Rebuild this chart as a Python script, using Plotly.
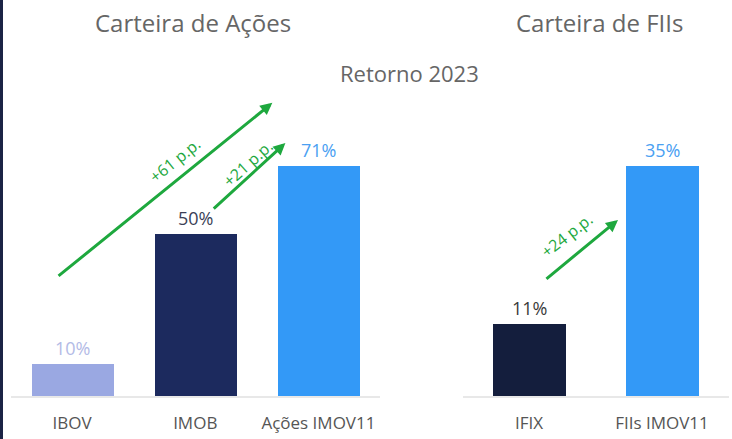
import plotly.graph_objects as go

# ---- data ----
acoes_categories = ["IBOV", "IMOB", "Ações IMOV11"]
acoes_values = [10, 50, 71]
fiis_categories = ["IFIX", "FIIs IMOV11"]
fiis_values = [11, 35]

acoes_bar_colors = ["#9aa8e2", "#1c2a5e", "#3399f7"]
acoes_label_colors = ["#b3bbe6", "#3b3f57", "#4aa0f2"]
fiis_bar_colors = ["#141e3d", "#3399f7"]
fiis_label_colors = ["#3a3a3a", "#4aa0f2"]

W, H = 732, 439
FONT = "Open Sans"
GREEN = "#1ea83e"

fig = go.Figure()
fig.add_trace(go.Bar(x=acoes_categories, y=acoes_values, marker=dict(color=acoes_bar_colors, line=dict(width=0)),
                     width=0.667, xaxis="x", yaxis="y", hoverinfo="skip"))
fig.add_trace(go.Bar(x=fiis_categories, y=fiis_values, marker=dict(color=fiis_bar_colors, line=dict(width=0)),
                     width=0.556, xaxis="x2", yaxis="y2", hoverinfo="skip"))

ann = []
for c, v, col in zip(acoes_categories, acoes_values, acoes_label_colors):
    ann.append(dict(x=c, y=v, xref="x", yref="y", text=f"{v}%", showarrow=False, yanchor="bottom",
                    yshift=2, font=dict(family=FONT, size=18, color=col)))
for c, v, col in zip(fiis_categories, fiis_values, fiis_label_colors):
    ann.append(dict(x=c, y=v, xref="x2", yref="y2", text=f"{v}%", showarrow=False, yanchor="bottom",
                    yshift=2, font=dict(family=FONT, size=18, color=col)))

# arrows (head x,y ; tail ax,ay) in axis coords
arrows = [
    ("x", "y", 1.626, 90.5, -0.122, 36.7),
    ("x", "y", 1.732, 78.1, 1.138, 57.4),
    ("x2", "y2", 0.669, 26.8, 0.120, 17.65),
]
for xr, yr, x, y, ax, ay in arrows:
    ann.append(dict(x=x, y=y, ax=ax, ay=ay, xref=xr, yref=yr, axref=xr, ayref=yr, text="",
                    showarrow=True, arrowhead=2, arrowsize=0.8, arrowwidth=3, arrowcolor=GREEN))
arrow_texts = [
    ("x", "y", 0.837, 72.9, "+61 p.p.", -39),
    ("x", "y", 1.431, 71.9, "+21 p.p.", -42),
    ("x2", "y2", 0.286, 24.5, "+24 p.p.", -38),
]
for xr, yr, x, y, t, ang in arrow_texts:
    ann.append(dict(x=x, y=y, xref=xr, yref=yr, text=t, textangle=ang, showarrow=False,
                    font=dict(family=FONT, size=16, color=GREEN)))

titles = [
    ("Carteira de Ações", 193, 23, 24),
    ("Carteira de FIIs", 599, 23, 24),
    ("Retorno 2023", 409, 73, 22),
]
for t, px, py, fs in titles:
    ann.append(dict(x=px / W, y=(H - py) / H, xref="paper", yref="paper", text=t, showarrow=False,
                    xanchor="center", yanchor="middle",
                    font=dict(family=FONT, size=fs, color="#666666")))

y0 = 43 / H
y1 = 339 / H
axis_common = dict(showgrid=False, zeroline=False, showline=True, linecolor="#e8e8e8", linewidth=2,
                   ticks="outside", ticklen=11, tickcolor="rgba(0,0,0,0)",
                   tickfont=dict(family=FONT, size=17, color="#555555"), fixedrange=True)
yaxis_common = dict(visible=False, fixedrange=True)

fig.update_layout(
    width=W, height=H, autosize=False,
    margin=dict(l=0, r=0, t=0, b=0),
    paper_bgcolor="white", plot_bgcolor="white",
    showlegend=False, bargap=0,
    xaxis=dict(domain=[10.5 / W, 380 / W], range=[-0.5, 2.5], anchor="y", **axis_common),
    yaxis=dict(domain=[y0, y1], range=[0, 296 / 3.239], anchor="x", **yaxis_common),
    xaxis2=dict(domain=[462.5 / W, 728.5 / W], range=[-0.5, 1.5], anchor="y2", **axis_common),
    yaxis2=dict(domain=[y0, y1], range=[0, 296 / 6.571], anchor="x2", **yaxis_common),
    annotations=ann,
    shapes=[dict(type="rect", xref="paper", yref="paper", x0=0, x1=3 / W, y0=0, y1=1,
                 fillcolor="#1b2345", line=dict(width=0), layer="above")],
)

fig.write_html("out.html", config={"displayModeBar": False},
               post_script="document.body.style.margin='0';document.body.style.overflow='hidden';")
